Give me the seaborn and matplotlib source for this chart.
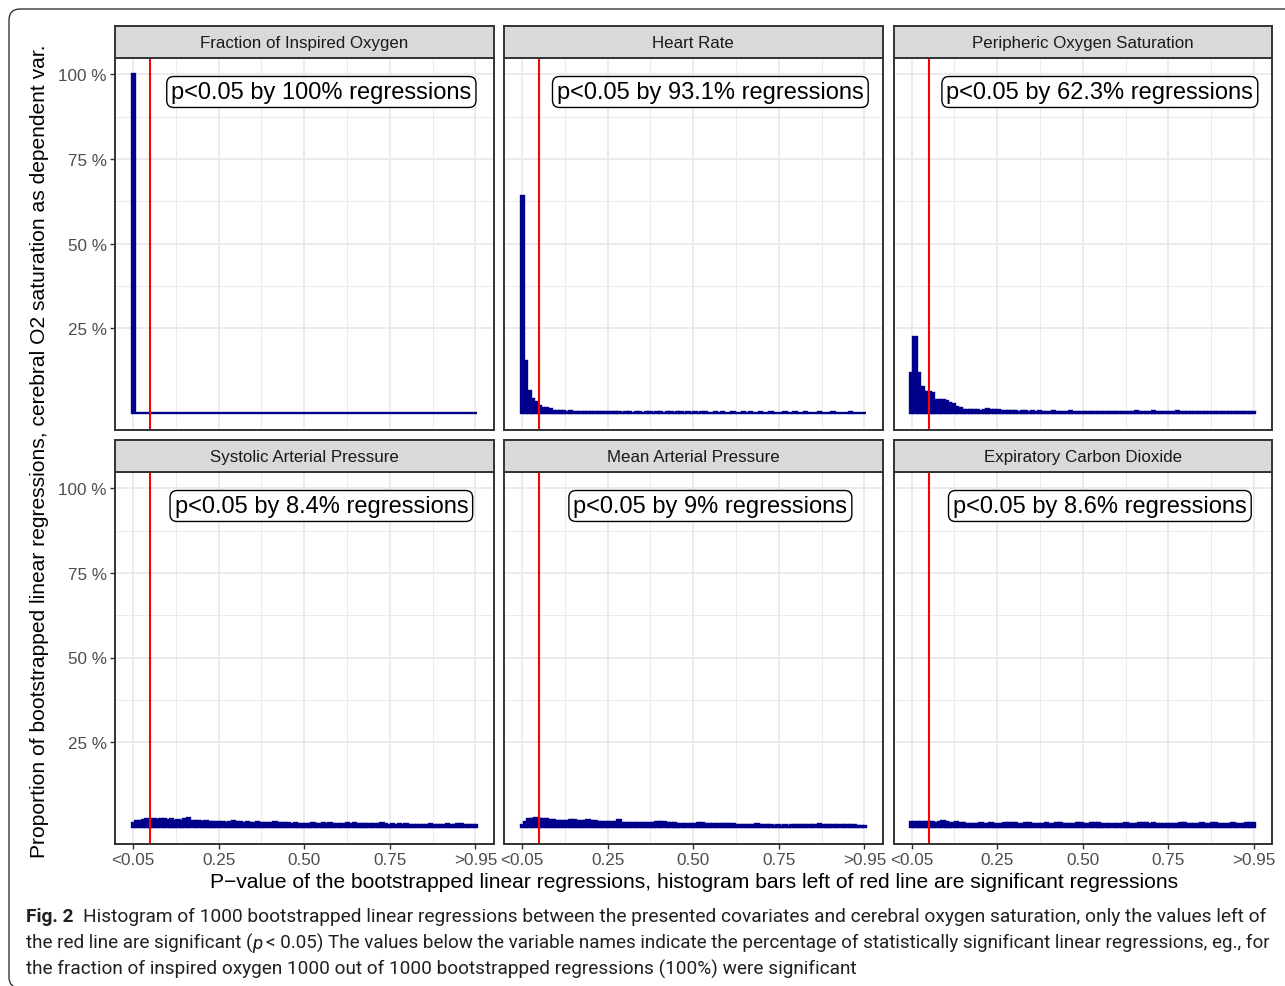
import numpy as np
import pandas as pd
import matplotlib
matplotlib.use("Agg")
import matplotlib.pyplot as plt
import matplotlib.transforms as mtransforms
from matplotlib import font_manager
from matplotlib.patches import FancyBboxPatch
from matplotlib.ticker import FixedLocator
import seaborn as sns

# ---------------- data ----------------
panel_titles = ["Fraction of Inspired Oxygen", "Heart Rate", "Peripheric Oxygen Saturation",
                "Systolic Arterial Pressure", "Mean Arterial Pressure", "Expiratory Carbon Dioxide"]
panel_labels = ["p<0.05 by 100% regressions", "p<0.05 by 93.1% regressions",
                "p<0.05 by 62.3% regressions", "p<0.05 by 8.4% regressions",
                "p<0.05 by 9% regressions", "p<0.05 by 8.6% regressions"]

# share of bootstrapped regressions (%) per p-value bin (100 bins from 0 to 1)
fio2 = [100.0] + [0.0] * 99

heart_rate = [64.0, 15.3, 6.3, 4.0, 3.1, 2.0, 1.5, 1.5, 1.0, 0.6, 0.5, 0.5, 0.4, 0.3, 0.4, 0.2, 0.2, 0.1, 0.2, 0.1,
              0.3, 0.1, 0.1, 0.1, 0.1, 0.2, 0.2, 0.1, 0.1, 0.0, 0.1, 0.1, 0.0, 0.1, 0.1, 0.0, 0.2, 0.1, 0.0, 0.1,
              0.1, 0.0, 0.1, 0.1, 0.0, 0.2, 0.1, 0.0, 0.1, 0.0, 0.1, 0.0, 0.1, 0.1, 0.0, 0.0, 0.1, 0.0, 0.1, 0.0,
              0.0, 0.1, 0.0, 0.0, 0.1, 0.0, 0.1, 0.0, 0.0, 0.1, 0.0, 0.0, 0.1, 0.0, 0.0, 0.0, 0.1, 0.0, 0.0, 0.1,
              0.0, 0.0, 0.1, 0.0, 0.0, 0.0, 0.1, 0.0, 0.0, 0.0, 0.1, 0.0, 0.0, 0.0, 0.0, 0.1, 0.0, 0.0, 0.0, 0.0]

peripheric = [11.6, 22.5, 11.6, 7.5, 6.0, 6.0, 5.7, 3.7, 3.7, 3.7, 3.3, 2.7, 2.5, 1.7, 1.3, 0.8, 0.8, 0.7, 0.8, 0.7,
              0.6, 0.8, 1.0, 0.8, 0.7, 0.7, 0.5, 0.6, 0.5, 0.4, 0.4, 0.3, 0.4, 0.4, 0.3, 0.4, 0.3, 0.4, 0.3, 0.3,
              0.3, 0.5, 0.3, 0.2, 0.3, 0.2, 0.5, 0.3, 0.2, 0.2, 0.3, 0.2, 0.2, 0.3, 0.2, 0.2, 0.2, 0.3, 0.2, 0.2,
              0.2, 0.2, 0.3, 0.2, 0.2, 0.5, 0.2, 0.2, 0.2, 0.3, 0.4, 0.2, 0.2, 0.2, 0.2, 0.2, 0.3, 0.4, 0.2, 0.2,
              0.2, 0.2, 0.3, 0.2, 0.2, 0.2, 0.2, 0.3, 0.2, 0.2, 0.2, 0.2, 0.3, 0.2, 0.2, 0.2, 0.2, 0.2, 0.2, 0.2]

systolic = [1.0, 1.6, 1.8, 1.9, 2.1, 2.0, 2.2, 1.9, 2.1, 2.2, 2.0, 2.1, 1.8, 1.9, 1.8, 2.1, 2.4, 1.7, 1.6, 1.6,
            1.5, 1.6, 1.4, 1.4, 1.3, 1.4, 1.3, 1.2, 1.3, 1.7, 1.3, 1.5, 1.2, 1.3, 1.1, 1.2, 1.3, 1.1, 1.2, 1.0,
            1.1, 1.3, 1.0, 1.1, 1.2, 1.2, 0.9, 1.0, 0.8, 0.9, 0.9, 0.8, 1.0, 0.9, 0.8, 1.0, 0.9, 1.0, 0.8, 0.9,
            0.8, 0.9, 1.1, 0.9, 1.0, 0.9, 0.8, 0.9, 0.8, 0.7, 0.9, 0.8, 1.0, 0.8, 0.6, 0.7, 0.6, 0.7, 0.6, 0.7,
            0.5, 0.6, 0.6, 0.5, 0.6, 0.6, 0.7, 0.6, 0.5, 0.6, 0.6, 0.7, 0.6, 0.6, 0.7, 0.8, 0.6, 0.5, 0.4, 0.4]

mean_ap = [0.6, 1.5, 2.2, 2.3, 2.4, 2.2, 2.3, 2.3, 1.9, 2.0, 1.8, 1.7, 1.8, 1.7, 1.9, 1.9, 1.8, 1.7, 1.6, 1.9,
           1.8, 1.7, 1.5, 1.4, 1.3, 1.3, 1.4, 1.5, 1.9, 1.2, 1.1, 1.2, 1.1, 1.2, 1.1, 1.1, 1.2, 1.1, 1.2, 1.3,
           1.3, 1.3, 1.1, 1.0, 1.0, 0.9, 0.8, 0.9, 0.8, 0.8, 0.9, 1.1, 1.1, 0.8, 0.7, 0.8, 0.7, 0.7, 0.8, 0.7,
           0.8, 0.9, 0.6, 0.5, 0.6, 0.5, 0.6, 0.5, 0.8, 0.6, 0.6, 0.5, 0.4, 0.3, 0.4, 0.3, 0.4, 0.3, 0.4, 0.5,
           0.5, 0.6, 0.5, 0.5, 0.6, 0.6, 0.7, 0.6, 0.6, 0.5, 0.6, 0.4, 0.5, 0.4, 0.5, 0.4, 0.5, 0.3, 0.2, 0.2]

exp_co2 = [1.5, 1.5, 1.3, 1.4, 1.3, 1.3, 1.4, 1.1, 1.5, 1.7, 1.4, 1.1, 1.1, 1.3, 1.1, 1.0, 0.9, 0.9, 0.8, 0.9,
           1.1, 0.9, 0.8, 1.1, 0.9, 0.8, 0.9, 1.1, 1.1, 1.1, 1.0, 0.9, 0.8, 1.1, 1.1, 0.9, 0.9, 0.8, 0.9, 1.1,
           0.9, 0.8, 1.0, 1.1, 0.9, 0.9, 0.8, 0.9, 1.0, 1.1, 0.9, 0.8, 1.1, 1.1, 1.0, 0.9, 0.8, 0.7, 0.8, 0.7,
           0.8, 0.7, 1.0, 0.8, 0.8, 0.9, 1.0, 1.1, 1.0, 0.9, 1.1, 0.8, 0.8, 0.7, 0.8, 0.7, 0.8, 0.9, 1.1, 1.0,
           0.8, 0.9, 0.8, 0.9, 1.0, 0.9, 0.8, 1.1, 1.0, 0.8, 0.9, 0.8, 0.8, 1.0, 0.9, 0.8, 0.9, 1.1, 1.1, 1.0]

panel_values = [fio2, heart_rate, peripheric, systolic, mean_ap, exp_co2]

x_ticks = [0.0, 0.25, 0.50, 0.75, 1.0]
x_tick_labels = ["<0.05", "0.25", "0.50", "0.75", ">0.95"]
y_ticks = [25, 50, 75, 100]
y_tick_labels = ["25 %", "50 %", "75 %", "100 %"]
threshold = 0.05

x_title = "P\u2212value of the bootstrapped linear regressions, histogram bars left of red line are significant regressions"
y_title = "Proportion of bootstrapped linear regressions, cerebral O2 saturation as dependent var."

# ---------------- style ----------------
sns.set_theme(style="white")
plt.rcParams['font.family'] = ['Liberation Sans', 'DejaVu Sans']

NAVY = "#00008B"
GRID = "#EBEBEB"
BORDER = "#333333"
STRIP = "#D9D9D9"
TICKLAB = "#4D4D4D"
CAP = "#231F20"

W, H = 1285, 987
fig = plt.figure(figsize=(W / 100, H / 100), dpi=100)
fig.patch.set_facecolor("white")


def fx(px):
    return px / W


def fy(py):
    return 1 - py / H


col_left = [115, 504, 893.5]
pw = 378.5
row_top = [58.5, 472.5]
ph = 372
strip_h = 31.5

edges = [float(e) for e in np.linspace(-0.005, 1.005, 101)]
centers = [(a + b) / 2 for a, b in zip(edges[:-1], edges[1:])]

for i, vals in enumerate(panel_values):
    r, c = divmod(i, 3)
    L, T = col_left[c], row_top[r]
    ax = fig.add_axes([fx(L), fy(T + ph), pw / W, ph / H])
    ax.set_facecolor("white")
    df = pd.DataFrame({"p": centers, "share": vals})
    sns.histplot(data=df, x="p", weights="share", bins=edges, ax=ax, color=NAVY,
                 edgecolor=NAVY, linewidth=1.7, alpha=1, zorder=3)
    ax.axvline(threshold, color="red", lw=1.5, zorder=4)
    ax.set_xlim(-0.0533, 1.0533)
    ax.set_ylim(-5, 105)
    ax.set_xticks(x_ticks)
    ax.set_xticklabels(x_tick_labels)
    ax.set_yticks(y_ticks)
    ax.set_yticklabels(y_tick_labels)
    ax.xaxis.set_minor_locator(FixedLocator([0.125, 0.375, 0.625, 0.875]))
    ax.yaxis.set_minor_locator(FixedLocator([37.5, 62.5, 87.5]))
    ax.grid(which="major", color=GRID, lw=1.4, zorder=0)
    ax.grid(which="minor", color=GRID, lw=0.7, zorder=0)
    ax.set_axisbelow(True)
    ax.set_xlabel("")
    ax.set_ylabel("")
    for s in ax.spines.values():
        s.set_color(BORDER)
        s.set_linewidth(1.4)
        s.set_zorder(5)
    ax.tick_params(axis="both", which="major", length=3.5, width=1.0, color=BORDER,
                   labelcolor=TICKLAB, labelsize=12.3, pad=2.5,
                   bottom=(r == 1), labelbottom=(r == 1),
                   left=(c == 0), labelleft=(c == 0))
    ax.tick_params(axis="both", which="minor", length=0)
    ax.text(0.55, 94.8, panel_labels[i], ha="center", va="center", fontsize=17,
            color="black", zorder=6,
            bbox=dict(boxstyle="round,pad=0.19,rounding_size=0.3", fc="white",
                      ec="black", lw=1.0))

    sax = fig.add_axes([fx(L), fy(T), pw / W, strip_h / H])
    sax.set_facecolor(STRIP)
    sax.set_xticks([])
    sax.set_yticks([])
    for s in sax.spines.values():
        s.set_color(BORDER)
        s.set_linewidth(1.4)
    sax.text(0.5, 0.47, panel_titles[i], ha="center", va="center", fontsize=12.2,
             color="#1A1A1A", transform=sax.transAxes)

# axis titles
fig.text(fx(694), fy(883), x_title, ha="center", va="center", fontsize=15.1, color="black")
fig.text(fx(40), fy(451), y_title, ha="center", va="center", rotation=90,
         fontsize=15.1, color="black")

# outer frame
frame = FancyBboxPatch((9, -2), 1300, H - 10 + 2, boxstyle="round,pad=0,rounding_size=11",
                       transform=mtransforms.IdentityTransform(), fill=False,
                       ec=CAP, lw=0.9)
fig.patches.append(frame)


# caption
def has_font(name):
    try:
        font_manager.findfont(font_manager.FontProperties(family=name), fallback_to_default=False)
        return True
    except Exception:
        return False


cap_family = next((f for f in ["Liberation Sans Narrow", "Roboto", "Open Sans"] if has_font(f)),
                  "DejaVu Sans")
renderer = fig.canvas.get_renderer()


def text_w(s, fs, **kw):
    t = fig.text(0, 0, s, fontsize=fs, family=cap_family, **kw)
    w = t.get_window_extent(renderer).width
    t.remove()
    return w


def space_w(fs, **kw):
    return text_w("a a", fs, **kw) - text_w("aa", fs, **kw)


line1 = [("Fig. 2", dict(weight="bold")),
         ("Histogram of 1000 bootstrapped linear regressions between the presented covariates and cerebral oxygen saturation, only the values left of", {})]
line2 = [("the red line are significant (", {}), ("p", dict(style="italic")),
         ("< 0.05) The values below the variable names indicate the percentage of statistically significant linear regressions, eg., for", {})]
line3 = [("the fraction of inspired oxygen 1000 out of 1000 bootstrapped regressions (100%) were significant", {})]

gaps1 = [2.0, ]
gaps2 = [0.0, 0.6]


def line_width(pieces, gaps, fs):
    w = 0.0
    sp = space_w(fs)
    for k, (txt, kw) in enumerate(pieces):
        w += text_w(txt, fs, **kw)
        if k < len(gaps):
            w += gaps[k] * sp
    return w


fs0 = 12.0
fs1 = fs0 * (1266 - 26) / line_width(line1, gaps1, fs0)
fs2 = fs0 * (1270 - 26) / line_width(line2, gaps2, fs0)
fs3 = (fs1 + fs2) / 2


def put_line(pieces, y_px, gaps, fs):
    x = 26.0
    sp = space_w(fs)
    for k, (txt, kw) in enumerate(pieces):
        fig.text(fx(x), fy(y_px), txt, fontsize=fs, family=cap_family, va="baseline",
                 ha="left", color=CAP, **kw)
        x += text_w(txt, fs, **kw)
        if k < len(gaps):
            x += gaps[k] * sp


put_line(line1, 922, gaps1, fs1)
put_line(line2, 949, gaps2, fs2)
put_line(line3, 975, [], fs3)

fig.savefig("out.png", dpi=100)
